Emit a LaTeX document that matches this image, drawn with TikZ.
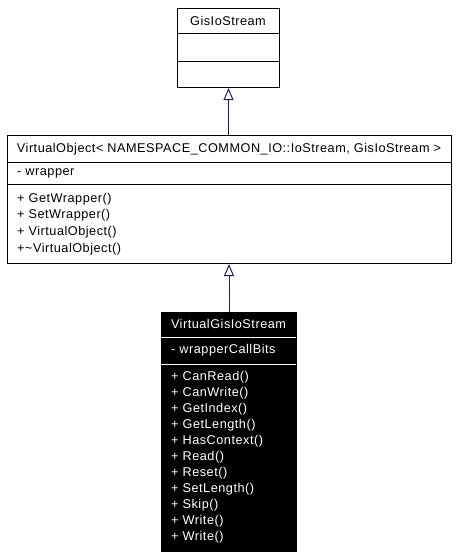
\documentclass[tikz,border=0pt]{standalone}
\usepackage{fontspec}
\setmainfont{Liberation Sans}[LetterSpace=4]
\usetikzlibrary{arrows.meta}
\definecolor{edgeblue}{HTML}{191970}
\begin{document}
\begin{tikzpicture}[x=1pt,y=-1pt,
  box/.style={draw=black, line width=1pt, inner sep=0pt, anchor=north west},
  darkbox/.style={fill=black, draw=black, line width=1pt, inner sep=0pt, anchor=north west},
  sep/.style={line width=1pt},
  wsep/.style={line width=1pt, draw=white},
  txt/.style={inner sep=0pt, font=\fontsize{12.7}{15}\selectfont},
  mem/.style={txt, anchor=west},
  wtxt/.style={txt, text=white},
  wmem/.style={mem, text=white},
  inherit/.style={draw=edgeblue, line width=1pt, -{Triangle[open, length=12pt, width=10pt, fill=white]}}]
\useasboundingbox (0,0) rectangle (456,557);
% GisIoStream
\node[box, minimum width=102pt, minimum height=79pt] (gis) at (177,8) {};
\draw[sep] (177,33) -- (279,33);
\draw[sep] (177,61) -- (279,61);
\node[txt] (gisT) at (228,20.5) {GisIoStream};
% VirtualObject
\node[box, minimum width=444pt, minimum height=128pt] (vo) at (7,135) {};
\draw[sep] (7,162) -- (451,162);
\draw[sep] (7,184) -- (451,184);
\node[txt] (voT) at (229,149) {VirtualObject< NAMESPACE\_COMMON\_IO::IoStream, GisIoStream >};
\node[mem] (voA1) at (17,173) {- wrapper};
\node[mem] (voM1) at (17,199) {+ GetWrapper()};
\node[mem] (voM2) at (17,215.7) {+ SetWrapper()};
\node[mem] (voM3) at (17,232.3) {+ VirtualObject()};
\node[mem] (voM4) at (17,249) {+\textasciitilde VirtualObject()};
% VirtualGisIoStream
\node[darkbox, minimum width=135pt, minimum height=239pt] (vg) at (161,312) {};
\draw[wsep] (161,337.5) -- (296,337.5);
\draw[wsep] (161,364) -- (296,364);
\node[wtxt] (vgT) at (228.5,324) {VirtualGisIoStream};
\node[wmem] (vgA1) at (171,350.5) {- wrapperCallBits};
\node[wmem] (vgM1) at (171,377) {+ CanRead()};
\node[wmem] (vgM2) at (171,393) {+ CanWrite()};
\node[wmem] (vgM3) at (171,409) {+ GetIndex()};
\node[wmem] (vgM4) at (171,425) {+ GetLength()};
\node[wmem] (vgM5) at (171,441) {+ HasContext()};
\node[wmem] (vgM6) at (171,457) {+ Read()};
\node[wmem] (vgM7) at (171,473) {+ Reset()};
\node[wmem] (vgM8) at (171,489) {+ SetLength()};
\node[wmem] (vgM9) at (171,505) {+ Skip()};
\node[wmem] (vgM10) at (171,521) {+ Write()};
\node[wmem] (vgM11) at (171,537) {+ Write()};
% inheritance
\draw[inherit] (vo.north -| gis.south) -- (gis.south);
\draw[inherit] (vg.north) -- (vg.north |- vo.south);
\end{tikzpicture}
\end{document}
